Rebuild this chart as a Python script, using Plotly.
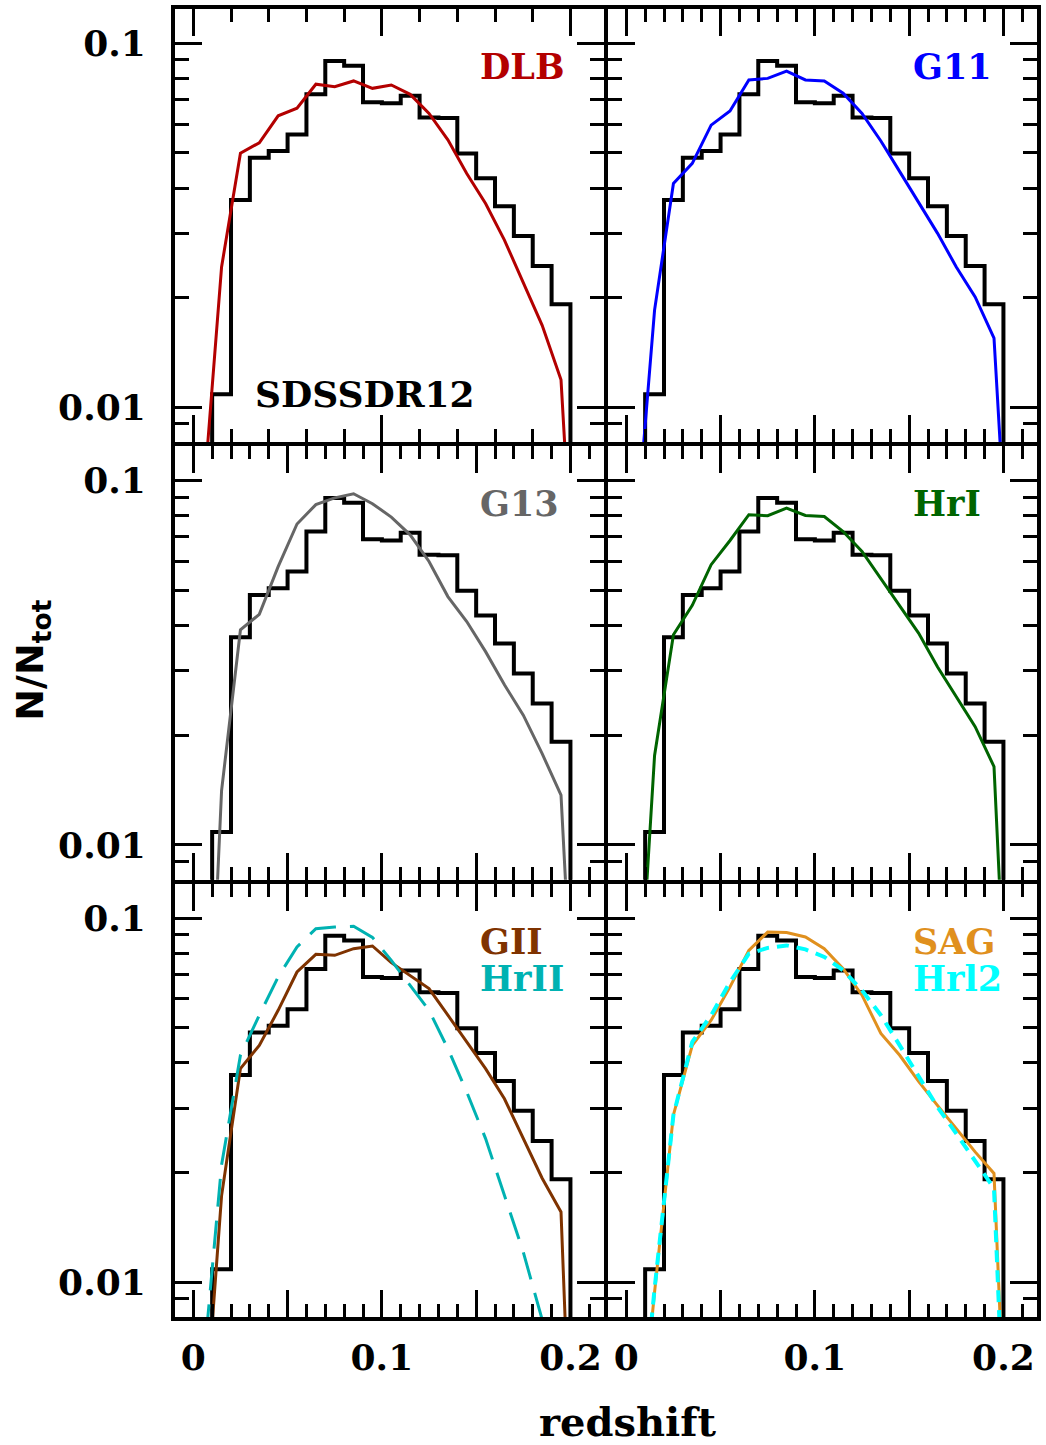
import plotly.graph_objects as go
from plotly.subplots import make_subplots

# SDSS DR12 redshift histogram (bin edges and fractions per bin)
sdss_edges = [0.01, 0.02, 0.03, 0.04, 0.05, 0.06, 0.07, 0.08, 0.09, 0.10,
              0.11, 0.12, 0.13, 0.14, 0.15, 0.16, 0.17, 0.18, 0.19, 0.20]
sdss_frac = [0.01086, 0.0371, 0.0485, 0.0506, 0.0562, 0.0724, 0.0894, 0.0868,
             0.0689, 0.0684, 0.0718, 0.0625, 0.0623, 0.0498, 0.0426, 0.0357,
             0.02955, 0.02444, 0.01919]

# model curves sampled at bin centres
z_model = [0.005, 0.015, 0.025, 0.035, 0.045, 0.055, 0.065, 0.075, 0.085, 0.095,
           0.105, 0.115, 0.125, 0.135, 0.145, 0.155, 0.165, 0.175, 0.185, 0.195, 0.205]
dlb = [0.0053, 0.0243, 0.0499, 0.0533, 0.0632, 0.0663, 0.0772, 0.0760, 0.0788, 0.0752,
       0.0768, 0.0724, 0.0642, 0.0543, 0.0439, 0.0363, 0.0288, 0.0221, 0.0168, 0.0119, 0.0015]
g11 = [0.0043, 0.0185, 0.0412, 0.0468, 0.0596, 0.0652, 0.0793, 0.0801, 0.0839, 0.0793,
       0.0788, 0.0729, 0.0642, 0.0539, 0.0444, 0.0367, 0.0301, 0.0243, 0.0201, 0.0155, 0.0020]
g13 = [0.0010, 0.0141, 0.0389, 0.0429, 0.0580, 0.0759, 0.0858, 0.0895, 0.0919, 0.0863,
       0.0793, 0.0709, 0.0599, 0.0480, 0.0410, 0.0339, 0.0275, 0.0227, 0.0178, 0.0137, 0.0014]
hr1 = [0.0025, 0.0176, 0.0377, 0.0454, 0.0587, 0.0684, 0.0805, 0.0800, 0.0839, 0.0801,
       0.0796, 0.0724, 0.0638, 0.0536, 0.0453, 0.0381, 0.0308, 0.0255, 0.0211, 0.0164, 0.0013]
g2 = [0.0034, 0.0173, 0.0386, 0.0447, 0.0558, 0.0711, 0.0795, 0.0790, 0.0824, 0.0838,
      0.0754, 0.0696, 0.0640, 0.0541, 0.0457, 0.0386, 0.0319, 0.0248, 0.0193, 0.0156, 0.0007]
hr2 = [0.0056, 0.0210, 0.0420, 0.0541, 0.0689, 0.0833, 0.0935, 0.0945, 0.0949, 0.0885,
       0.0765, 0.0654, 0.0558, 0.0438, 0.0333, 0.0248, 0.0173, 0.0121, 0.0079, 0.0050, 0.0030]
sag = [0.0028, 0.0094, 0.0288, 0.0447, 0.0524, 0.0647, 0.0815, 0.0915, 0.0912, 0.0887,
       0.0824, 0.0726, 0.0614, 0.0482, 0.0420, 0.0356, 0.0306, 0.0264, 0.0228, 0.0199, 0.0012]
hr12 = [0.0028, 0.0096, 0.0288, 0.0457, 0.0541, 0.0667, 0.0798, 0.0828, 0.0841, 0.0820,
        0.0782, 0.0719, 0.0633, 0.0541, 0.0447, 0.0366, 0.0303, 0.0256, 0.0216, 0.0181, 0.0010]

# (row, col, [(name, values, colour, dash, width)])
panels = [
    (1, 1, [("DLB", dlb, "#B30000", "solid", 3)]),
    (1, 2, [("G11", g11, "#0000FF", "solid", 3)]),
    (2, 1, [("G13", g13, "#666666", "solid", 3)]),
    (2, 2, [("HrI", hr1, "#006400", "solid", 3)]),
    (3, 1, [("GII", g2, "#7F3300", "solid", 3), ("HrII", hr2, "#00B2B2", "28px,14px", 3)]),
    (3, 2, [("SAG", sag, "#E0901E", "solid", 3), ("Hrl2", hr12, "#00FFFF", "12px,8px", 4)]),
]

X_RANGE = [-0.0097, 0.2178]
Y_RANGE = [-2.0953, -0.9058]
BOTTOM = 0.004  # below the visible range, closes the histogram outline

# panel domains leave a gap equal to the frame width so neighbouring frames coincide
X_DOMAINS = {1: [0.0, 431 / 866], 2: [435 / 866, 1.0]}
Y_DOMAINS = {1: [875 / 1308, 1.0], 2: [437.3 / 1308, 871 / 1308], 3: [0.0, 433.3 / 1308]}

TICK_FONT = dict(family="DejaVu Serif", size=36, color="black", weight="bold")
LABEL_FONT_SIZE = 35

fig = make_subplots(rows=3, cols=2, horizontal_spacing=0, vertical_spacing=0)

hist_x = [sdss_edges[0]] + sdss_edges[:-1] + [sdss_edges[-1]]
hist_y = [BOTTOM] + sdss_frac + [BOTTOM]

annotations = []
for row, col, models in panels:
    idx = (row - 1) * 2 + col
    xref = "x" if idx == 1 else f"x{idx}"
    yref = "y" if idx == 1 else f"y{idx}"

    fig.add_trace(go.Scatter(x=hist_x, y=hist_y, mode="lines", line_shape="hv",
                             line=dict(color="black", width=4), name="SDSSDR12",
                             showlegend=False, hoverinfo="skip"), row=row, col=col)
    for k, (name, vals, colour, dash, width) in enumerate(models):
        fig.add_trace(go.Scatter(x=z_model, y=vals, mode="lines", name=name,
                                 line=dict(color=colour, width=width, dash=dash),
                                 showlegend=False), row=row, col=col)
        annotations.append(dict(x=0.151, y=-1.064 - 0.101 * k, xref=xref, yref=yref,
                                text=name, showarrow=False, xanchor="left", yanchor="middle",
                                font=dict(family="DejaVu Serif", size=LABEL_FONT_SIZE,
                                          color=colour, weight="bold")))

    if row == 1 and col == 1:
        xdtick, xminor = 0.1, 0.02
        annotations.append(dict(x=0.0314, y=-1.9635, xref=xref, yref=yref,
                                text="SDSSDR12", showarrow=False, xanchor="left",
                                yanchor="middle",
                                font=dict(family="DejaVu Serif", size=LABEL_FONT_SIZE + 1,
                                          color="black", weight="bold")))
        label_step = 1
    else:
        xdtick, xminor = 0.05, 0.01
        label_step = 2

    fig.update_xaxes(row=row, col=col, domain=X_DOMAINS[col], range=X_RANGE,
                     showgrid=False, zeroline=False,
                     showline=True, linecolor="black", linewidth=4, mirror="ticks",
                     ticks="inside", ticklen=27, tickwidth=3, tickcolor="black",
                     tickmode="linear", tick0=0, dtick=xdtick, ticklabelstep=label_step,
                     showticklabels=(row == 3), tickfont=TICK_FONT, ticklabelstandoff=6,
                     minor=dict(ticks="inside", ticklen=13, tickwidth=3, tickcolor="black",
                                dtick=xminor, tick0=0, showgrid=False))
    fig.update_yaxes(row=row, col=col, domain=Y_DOMAINS[row], type="log", range=Y_RANGE,
                     showgrid=False, zeroline=False, showline=True, linecolor="black",
                     linewidth=4, mirror="ticks", ticks="inside", ticklen=27, tickwidth=3,
                     tickcolor="black", tickmode="array", tickvals=[0.01, 0.1],
                     ticktext=["0.01", "0.1"], showticklabels=(col == 1),
                     tickfont=TICK_FONT, ticklabelstandoff=18,
                     minor=dict(ticks="inside", ticklen=14, tickwidth=3, tickcolor="black",
                                tickvals=[0.009, 0.02, 0.03, 0.04, 0.05, 0.06, 0.07, 0.08, 0.09],
                                showgrid=False))

annotations.append(dict(x=0.5254, y=-0.0995, xref="paper", yref="paper", text="redshift",
                        showarrow=False, xanchor="center", yanchor="bottom",
                        font=dict(family="DejaVu Serif", size=40, color="black", weight="bold")))
annotations.append(dict(x=-0.165, y=0.5023, xref="paper", yref="paper",
                        text="N/N<sub>tot</sub>", showarrow=False, textangle=-90,
                        xanchor="center", yanchor="middle",
                        font=dict(family="DejaVu Sans", size=38, color="black", weight="bold")))

fig.update_layout(width=1046, height=1445, margin=dict(l=175, r=5, t=9, b=128),
                  paper_bgcolor="white", plot_bgcolor="white", showlegend=False,
                  annotations=annotations)

fig.write_html("out.html")
